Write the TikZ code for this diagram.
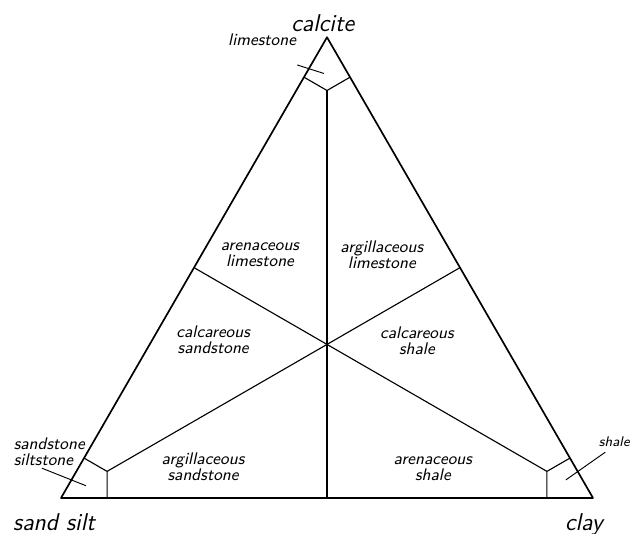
\documentclass[tikz,border=0pt]{standalone}
\usetikzlibrary{calc}
\tikzset{
  rock/.style={font=\fontsize{9}{8.5}\selectfont\sffamily\itshape, align=center, inner sep=1pt},
  pole/.style={font=\fontsize{13}{15}\selectfont\sffamily\itshape, inner sep=1pt},
  leader/.style={line width=.5pt},
}
\begin{document}
\begin{tikzpicture}[line join=round]
\useasboundingbox (-1.147,-0.677) rectangle (10.733,9.361);

\coordinate (A) at (0,0);
\coordinate (B) at (10,0);
\coordinate (C) at (5,8.660);
\coordinate (Ka) at (0.866,0.5);
\coordinate (Kb) at (9.134,0.5);
\coordinate (Kc) at (5,7.660);

\draw[line width=.9pt] (A) -- (B) -- (C) -- cycle;
\draw[line width=.6pt] (Kc) -- ($(A)!0.5!(B)$);
\draw[line width=.6pt] ($(A)!0.5!(C)$) -- (Kb);
\draw[line width=.6pt] ($(B)!0.5!(C)$) -- (Ka);
\draw[line width=.6pt] (4.567,7.910) -- (Kc) -- (5.433,7.910);
\draw[line width=.6pt] (0.433,0.75) -- (Ka) -- (0.866,0);
\draw[line width=.6pt] (9.567,0.75) -- (Kb) -- (9.134,0);

\node[pole] (calcite) at (4.92,8.93) {calcite};
\node[pole] (sandsilt) at (-0.13,-0.46) {sand silt};
\node[pole] (clay) at (9.83,-0.49) {clay};

\node[rock] (limestone) at (3.78,8.61) {limestone};
\node[rock, align=left, anchor=west] (sandstone) at (-0.93,0.87) {sandstone\\siltstone};
\node[rock, font=\fontsize{7.5}{8}\selectfont\sffamily\itshape] (shale) at (10.40,1.05) {shale};
\coordinate (inlime) at (4.94,7.98);
\coordinate (insand) at (0.47,0.23);
\coordinate (inshale) at (9.49,0.34);
\draw[leader] (4.44,8.14) -- (inlime);
\draw[leader] (-0.36,0.56) -- (insand);
\draw[leader] (10.23,0.86) -- (inshale);

\node[rock] (arenlime) at (3.74,4.57) {arenaceous\\limestone};
\node[rock] (argilime) at (6.03,4.57) {argillaceous\\limestone};
\node[rock] (calcsand) at (2.86,2.97) {calcareous\\sandstone};
\node[rock] (calcshale) at (6.69,2.95) {calcareous\\shale};
\node[rock] (argisand) at (2.67,0.58) {argillaceous\\sandstone};
\node[rock] (arenshale) at (6.99,0.55) {arenaceous\\shale};
\end{tikzpicture}
\end{document}
